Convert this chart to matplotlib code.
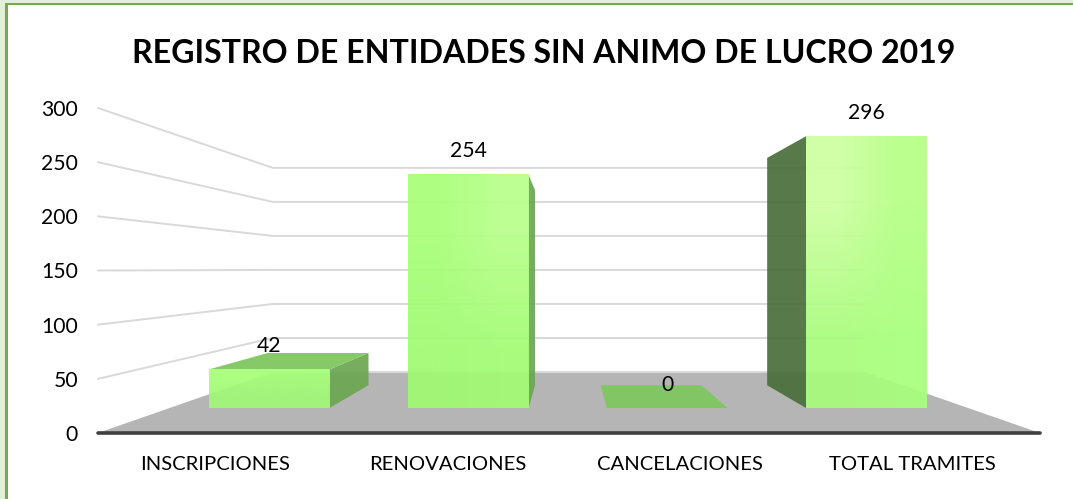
import numpy as np
import matplotlib
matplotlib.use("Agg")
import matplotlib.pyplot as plt
from matplotlib.patches import Polygon, Rectangle

# ---- data ----
categories = ["INSCRIPCIONES", "RENOVACIONES", "CANCELACIONES", "TOTAL TRAMITES"]
values = [42, 254, 0, 296]
yticks = [0, 50, 100, 150, 200, 250, 300]
title = "REGISTRO DE ENTIDADES SIN ANIMO DE LUCRO 2019"

# ---- layout (pixels) and pseudo-3D projection ----
W, H = 1073, 499
X0, X1, Y0, PX_PER_UNIT = 98.0, 1040.0, 433.0, 325.0 / 300.0
BAR_X1 = 1037.5
VX, VY = 568.0, 269.0
S_BACK, S_BAR_FRONT, S_BAR_BACK = 0.628, 0.848, 0.709
GAP_RATIO = 1.65


def proj(x, v, s=1.0):
    """Front-plane x and value v at perspective scale s -> pixel position."""
    yf = Y0 - v * PX_PER_UNIT
    return (VX + (x - VX) * s, VY + (yf - VY) * s)


plt.rcParams["font.family"] = ["Lato", "DejaVu Sans"]
fig = plt.figure(figsize=(W / 100, H / 100), dpi=100, facecolor="white")
ax = fig.add_axes([0, 0, 1, 1])
ax.axis("off")

# outer frame
ax.add_patch(Rectangle((0, 0), 5, H, fc="#E2EFD9", ec="none", zorder=0))
ax.add_patch(Rectangle((0, 0), W, 2.5, fc="#E2EFD9", ec="none", zorder=0))
ax.add_patch(Rectangle((5, 2.5), 3, H, fc="#70AD47", ec="none", zorder=1))
ax.add_patch(Rectangle((5, 2.5), W, 2.8, fc="#70AD47", ec="none", zorder=1))

# floor
ax.add_patch(Polygon([proj(X0, 0), proj(X0, 0, S_BACK), proj(X1, 0, S_BACK), proj(X1, 0)],
                     closed=True, fc="#B5B5B5", ec="none", zorder=2))

# wall gridlines
for v in yticks:
    xs = [X0, X0, X1]
    ss = [1.0, S_BACK, S_BACK]
    pts = [proj(x, v, s) for x, s in zip(xs, ss)]
    if v == 0:
        pts = pts[1:]
    ax.plot(*zip(*pts), color="#D9D9D9", lw=1.4, solid_capstyle="round",
            solid_joinstyle="round", zorder=3)
    ax.text(78, Y0 - v * PX_PER_UNIT + 2, str(v), ha="right", va="center",
            fontsize=15.2, color="black", zorder=10)

# axis line
ax.plot([X0, X1], [Y0, Y0], color="#404040", lw=2.6, solid_capstyle="round", zorder=9)

# bars
slot = (BAR_X1 - X0) / len(categories)
bar_w = slot / GAP_RATIO
front_corners = [  # top-left, top-right, bottom-left, bottom-right
    ("#A6FF78", "#A6FF78", "#A0F878", "#A0F878"),
    ("#A8FF78", "#B8FF8A", "#9FFA72", "#A2FC74"),
    ("#A0F878", "#A0F878", "#A0F878", "#A0F878"),
    ("#CEFFA2", "#B6FF86", "#A8FC7C", "#A8FF7C"),
]
for i, (cat, val) in enumerate(zip(categories, values)):
    cx = X0 + slot * (i + 0.5)
    xl, xr = cx - bar_w / 2, cx + bar_w / 2
    z = 4 + i * 0.1
    # side face: the one that faces the vanishing point
    if xl > VX:
        side_x, side_col = xl, "#4A6E3A"
    else:
        side_x, side_col = xr, "#6BA650"
    if val > 0:
        ax.add_patch(Polygon([proj(side_x, val, S_BAR_FRONT), proj(side_x, val, S_BAR_BACK),
                              proj(side_x, 0, S_BAR_BACK), proj(side_x, 0, S_BAR_FRONT)],
                             closed=True, fc=side_col, ec="none", alpha=0.92, zorder=z))
    # top face
    if val < 150:
        ax.add_patch(Polygon([proj(xl, val, S_BAR_FRONT), proj(xl, val, S_BAR_BACK),
                              proj(xr, val, S_BAR_BACK), proj(xr, val, S_BAR_FRONT)],
                             closed=True, fc="#7FC660", ec="none", alpha=0.95, zorder=z))
    # front face with gradient
    if val > 0:
        (lx, ty), (rx, by) = proj(xl, val, S_BAR_FRONT), proj(xr, 0, S_BAR_FRONT)
        tl, tr, bl, br = [matplotlib.colors.to_rgb(c) for c in front_corners[i]]
        img = np.array([[(*tl, 0.93), (*tr, 0.93)], [(*bl, 0.93), (*br, 0.93)]])
        ax.imshow(img, extent=(lx, rx, by, ty), origin="upper", interpolation="bilinear",
                  aspect="auto", zorder=z + 0.01)
    # labels
    tx, ty_ = proj(cx, val, S_BAR_FRONT)
    ax.text(tx, ty_ - 23.5, str(val), ha="center", va="center", fontsize=15.2,
            color="black", zorder=10)
    ax.text(215 + i * 232.5, 465, cat, ha="center", va="center", fontsize=14.6,
            color="black", zorder=10)

ax.text(544, 53, title, ha="center", va="center", fontsize=23.1, fontweight="bold",
        color="black", zorder=10)

ax.set_xlim(0, W)
ax.set_ylim(H, 0)
fig.savefig("out.png", dpi=100)
